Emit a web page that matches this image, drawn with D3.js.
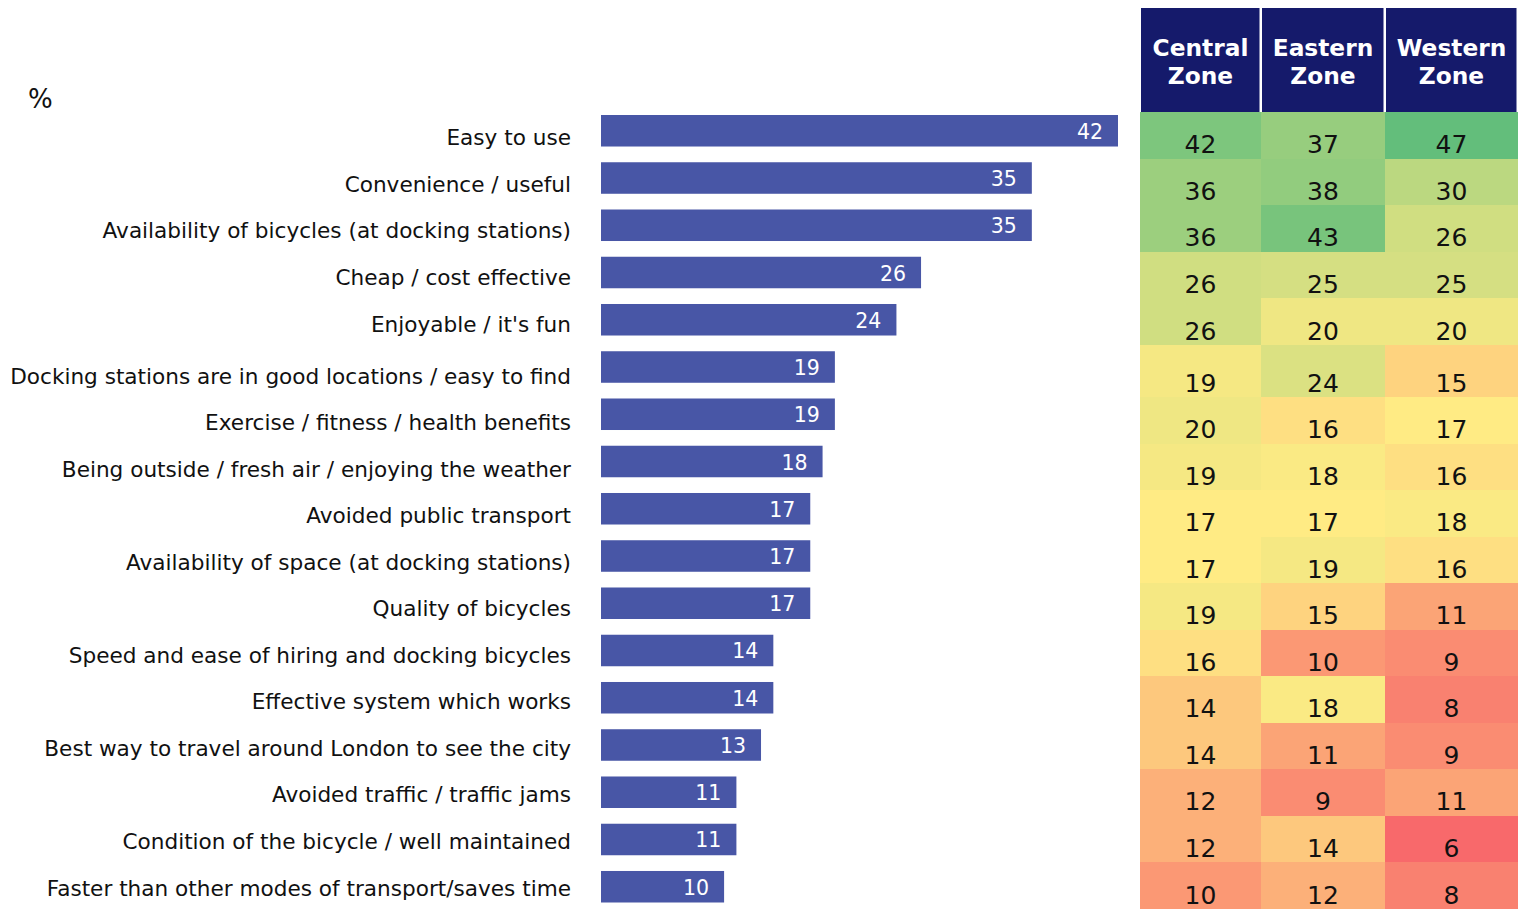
<!DOCTYPE html>
<html>
<head>
<meta charset="utf-8">
<script src="https://cdn.jsdelivr.net/npm/d3@7"></script>
<style>
  html, body { margin: 0; padding: 0; background: #ffffff; }
  svg { display: block; }
  text { font-family: "DejaVu Sans", Verdana, sans-serif; }
</style>
</head>
<body>
<svg id="chart" width="1518" height="909"></svg>
<script>
// Reasons given for using the bicycles (% of all users)
const reasons = [
  "Easy to use",
  "Convenience / useful",
  "Availability of bicycles (at docking stations)",
  "Cheap / cost effective",
  "Enjoyable / it's fun",
  "Docking stations are in good locations / easy to find",
  "Exercise / fitness / health benefits",
  "Being outside / fresh air / enjoying the weather",
  "Avoided public transport",
  "Availability of space (at docking stations)",
  "Quality of bicycles",
  "Speed and ease of hiring and docking bicycles",
  "Effective system which works",
  "Best way to travel around London to see the city",
  "Avoided traffic / traffic jams",
  "Condition of the bicycle / well maintained",
  "Faster than other modes of transport/saves time"
];
const totalPct = [42, 35, 35, 26, 24, 19, 19, 18, 17, 17, 17, 14, 14, 13, 11, 11, 10];

// Breakdown by zone
const zones = ["Central Zone", "Eastern Zone", "Western Zone"];
const centralPct = [42, 36, 36, 26, 26, 19, 20, 19, 17, 17, 19, 16, 14, 14, 12, 12, 10];
const easternPct = [37, 38, 43, 25, 20, 24, 16, 18, 17, 19, 15, 10, 18, 11, 9, 14, 12];
const westernPct = [47, 30, 26, 25, 20, 15, 17, 16, 18, 16, 11, 9, 8, 9, 11, 6, 8];
const zoneValues = [centralPct, easternPct, westernPct];

const unitLabel = "%";

const svg = d3.select("#chart");

// ---- bar chart ----
const barColor = "#4856a6";
const x = d3.scaleLinear()
  .domain([0, d3.max(totalPct)])
  .range([601, 1118]);

const yBar = d3.scaleBand()
  .domain(reasons)
  .range([115, 902.5])
  .paddingInner(0.333)
  .paddingOuter(0);

svg.append("g").selectAll("rect")
  .data(reasons)
  .join("rect")
  .attr("x", x(0))
  .attr("y", d => yBar(d))
  .attr("width", (d, i) => x(totalPct[i]) - x(0))
  .attr("height", yBar.bandwidth())
  .attr("fill", barColor);

svg.append("g").selectAll("text")
  .data(reasons)
  .join("text")
  .attr("x", (d, i) => x(totalPct[i]) - 15)
  .attr("y", d => yBar(d) + yBar.bandwidth() / 2 + 8)
  .attr("text-anchor", "end")
  .attr("fill", "#ffffff")
  .attr("font-size", 20.5)
  .text((d, i) => totalPct[i]);

// ---- heat table rows (the sixth row is a little taller) ----
const rowTop = d3.scaleLinear()
  .domain([0, 5, 6, reasons.length])
  .range([112, 345, 397, 909]);

// category labels, aligned with the table rows
svg.append("g").selectAll("text")
  .data(reasons)
  .join("text")
  .attr("x", 571)
  .attr("y", (d, i) => rowTop(i + 1) - 13.5)
  .attr("text-anchor", "end")
  .attr("fill", "#111111")
  .attr("font-size", 21.6)
  .text(d => d);

svg.append("text")
  .attr("x", 28)
  .attr("y", 108)
  .attr("fill", "#111111")
  .attr("font-size", 26)
  .text(unitLabel);

// ---- heat table ----
const colLeft = d3.scaleOrdinal().domain(zones).range([1140, 1261, 1385]);
const colRight = d3.scaleOrdinal().domain(zones).range([1261, 1385, 1518]);

const allValues = zoneValues.flat();
const heat = d3.scaleLinear()
  .domain([d3.min(allValues), d3.median(allValues), d3.max(allValues)])
  .range(["#F8696B", "#FFEB84", "#63BE7B"])
  .interpolate(d3.interpolateRgb);

// header cells
const header = svg.append("g");
zones.forEach(z => {
  const x0 = colLeft(z), x1 = colRight(z);
  header.append("rect")
    .attr("x", x0 + 1)
    .attr("y", 8)
    .attr("width", x1 - x0 - 2.5)
    .attr("height", 104)
    .attr("fill", "#151a6b");
  const words = z.split(" ");
  header.append("text")
    .attr("x", (x0 + x1) / 2)
    .attr("text-anchor", "middle")
    .attr("fill", "#ffffff")
    .attr("font-size", 23.3)
    .attr("font-weight", "bold")
    .selectAll("tspan")
    .data(words)
    .join("tspan")
    .attr("x", (x0 + x1) / 2)
    .attr("y", (d, i) => 55.5 + i * 28.5)
    .text(d => d);
});

// value cells
const cells = [];
zones.forEach((z, c) => {
  reasons.forEach((r, i) => cells.push({ zone: z, row: i, value: zoneValues[c][i] }));
});

const cellG = svg.append("g");
cellG.selectAll("rect")
  .data(cells)
  .join("rect")
  .attr("x", d => colLeft(d.zone))
  .attr("y", d => rowTop(d.row))
  .attr("width", d => colRight(d.zone) - colLeft(d.zone))
  .attr("height", d => rowTop(d.row + 1) - rowTop(d.row))
  .attr("fill", d => heat(d.value))
  .attr("shape-rendering", "crispEdges");

cellG.selectAll("text")
  .data(cells)
  .join("text")
  .attr("x", d => (colLeft(d.zone) + colRight(d.zone)) / 2)
  .attr("y", d => rowTop(d.row + 1) - 5.5)
  .attr("text-anchor", "middle")
  .attr("fill", "#111111")
  .attr("font-size", 25)
  .text(d => d.value);
</script>
</body>
</html>
